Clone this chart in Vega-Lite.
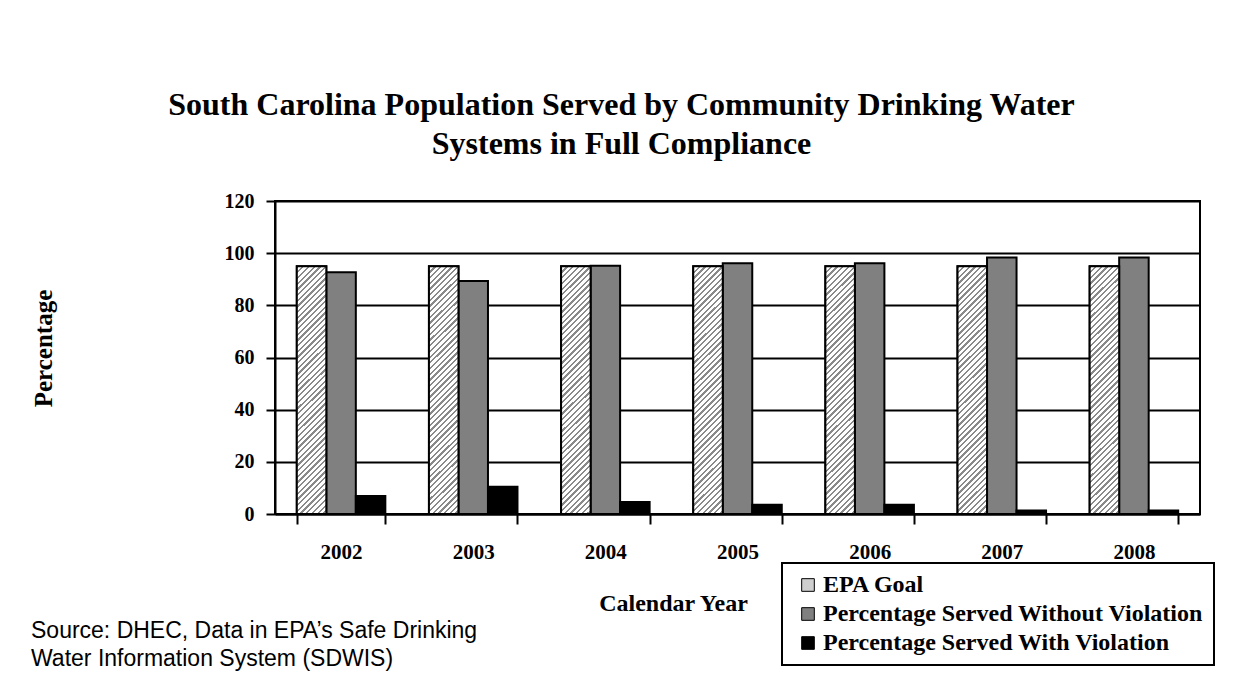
{
  "$schema": "https://vega.github.io/schema/vega-lite/v6.json",
  "background": "white",
  "padding": {"left": 30, "top": 89, "right": 8, "bottom": 14},
  "title": {
    "text": ["South Carolina Population Served by Community Drinking Water", "Systems in Full Compliance"],
    "font": "Liberation Serif", "fontSize": 32, "fontWeight": "bold", "lineHeight": 39,
    "color": "black", "anchor": "middle", "dx": -1, "offset": 29
  },
  "vconcat": [
    {
      "width": 925,
      "height": 313,
      "title": {
        "text": ["Source: DHEC, Data in EPA’s Safe Drinking", "Water Information System (SDWIS)"],
        "orient": "bottom", "anchor": "start", "font": "Liberation Sans", "fontSize": 23,
        "fontWeight": "normal", "lineHeight": 28, "offset": 5, "color": "black"
      },
      "data": {
        "values": [
          {"year": "2002", "series": "EPA Goal", "value": 95},
          {"year": "2002", "series": "Percentage Served Without Violation", "value": 92.7},
          {"year": "2002", "series": "Percentage Served With Violation", "value": 6.9},
          {"year": "2003", "series": "EPA Goal", "value": 95},
          {"year": "2003", "series": "Percentage Served Without Violation", "value": 89.3},
          {"year": "2003", "series": "Percentage Served With Violation", "value": 10.4},
          {"year": "2004", "series": "EPA Goal", "value": 95},
          {"year": "2004", "series": "Percentage Served Without Violation", "value": 95.2},
          {"year": "2004", "series": "Percentage Served With Violation", "value": 4.6},
          {"year": "2005", "series": "EPA Goal", "value": 95},
          {"year": "2005", "series": "Percentage Served Without Violation", "value": 96.1},
          {"year": "2005", "series": "Percentage Served With Violation", "value": 3.5},
          {"year": "2006", "series": "EPA Goal", "value": 95},
          {"year": "2006", "series": "Percentage Served Without Violation", "value": 96.1},
          {"year": "2006", "series": "Percentage Served With Violation", "value": 3.5},
          {"year": "2007", "series": "EPA Goal", "value": 95},
          {"year": "2007", "series": "Percentage Served Without Violation", "value": 98.3},
          {"year": "2007", "series": "Percentage Served With Violation", "value": 1.3},
          {"year": "2008", "series": "EPA Goal", "value": 95},
          {"year": "2008", "series": "Percentage Served Without Violation", "value": 98.3},
          {"year": "2008", "series": "Percentage Served With Violation", "value": 1.3}
        ]
      },
      "layer": [
        {
          "mark": {"type": "bar", "stroke": "black", "strokeWidth": 2},
          "encoding": {
            "x": {
              "field": "year", "type": "nominal", "title": "Calendar Year",
              "scale": {"paddingInner": 0.33, "paddingOuter": 0.165},
              "axis": {"titleX": 398}
            },
            "xOffset": {
              "field": "series", "type": "nominal",
              "scale": {"domain": ["EPA Goal", "Percentage Served Without Violation", "Percentage Served With Violation"], "paddingInner": 0, "paddingOuter": 0}
            },
            "y": {
              "field": "value", "type": "quantitative", "title": "Percentage",
              "scale": {"domain": [0, 120]},
              "axis": {"values": [0, 20, 40, 60, 80, 100, 120], "titleY": 147}
            },
            "color": {
              "field": "series", "type": "nominal",
              "scale": {
                "domain": ["EPA Goal", "Percentage Served Without Violation", "Percentage Served With Violation"],
                "range": ["#cfcfcf", "#808080", "#000000"]
              },
              "legend": {
                "orient": "none", "legendX": 507, "legendY": 362, "title": null,
                "strokeColor": "black", "padding": 10, "symbolOffset": 4,
                "symbolType": "square", "symbolSize": 160, "symbolStrokeColor": "black",
                "symbolStrokeWidth": 1, "labelFont": "Liberation Serif", "labelFontSize": 24,
                "labelFontWeight": "bold", "labelColor": "black", "rowPadding": 5,
                "labelOffset": 3, "labelLimit": 500
              }
            }
          }
        },
        {
          "transform": [{"filter": "datum.series === 'EPA Goal'"}],
          "mark": {
            "type": "bar", "stroke": "black", "strokeWidth": 2,
            "fill": {
              "gradient": "linear", "x1": 0, "y1": 0, "x2": 0.134, "y2": 1.13,
              "stops": [
                {"offset": 0, "color": "#8a8a8a"}, {"offset": 0.008, "color": "#8a8a8a"}, {"offset": 0.008, "color": "#ffffff"}, {"offset": 0.02, "color": "#ffffff"},
                {"offset": 0.02, "color": "#8a8a8a"}, {"offset": 0.028, "color": "#8a8a8a"}, {"offset": 0.028, "color": "#ffffff"}, {"offset": 0.04, "color": "#ffffff"},
                {"offset": 0.04, "color": "#8a8a8a"}, {"offset": 0.048, "color": "#8a8a8a"}, {"offset": 0.048, "color": "#ffffff"}, {"offset": 0.06, "color": "#ffffff"},
                {"offset": 0.06, "color": "#8a8a8a"}, {"offset": 0.068, "color": "#8a8a8a"}, {"offset": 0.068, "color": "#ffffff"}, {"offset": 0.08, "color": "#ffffff"},
                {"offset": 0.08, "color": "#8a8a8a"}, {"offset": 0.088, "color": "#8a8a8a"}, {"offset": 0.088, "color": "#ffffff"}, {"offset": 0.1, "color": "#ffffff"},
                {"offset": 0.1, "color": "#8a8a8a"}, {"offset": 0.108, "color": "#8a8a8a"}, {"offset": 0.108, "color": "#ffffff"}, {"offset": 0.12, "color": "#ffffff"},
                {"offset": 0.12, "color": "#8a8a8a"}, {"offset": 0.128, "color": "#8a8a8a"}, {"offset": 0.128, "color": "#ffffff"}, {"offset": 0.14, "color": "#ffffff"},
                {"offset": 0.14, "color": "#8a8a8a"}, {"offset": 0.148, "color": "#8a8a8a"}, {"offset": 0.148, "color": "#ffffff"}, {"offset": 0.16, "color": "#ffffff"},
                {"offset": 0.16, "color": "#8a8a8a"}, {"offset": 0.168, "color": "#8a8a8a"}, {"offset": 0.168, "color": "#ffffff"}, {"offset": 0.18, "color": "#ffffff"},
                {"offset": 0.18, "color": "#8a8a8a"}, {"offset": 0.188, "color": "#8a8a8a"}, {"offset": 0.188, "color": "#ffffff"}, {"offset": 0.2, "color": "#ffffff"},
                {"offset": 0.2, "color": "#8a8a8a"}, {"offset": 0.208, "color": "#8a8a8a"}, {"offset": 0.208, "color": "#ffffff"}, {"offset": 0.22, "color": "#ffffff"},
                {"offset": 0.22, "color": "#8a8a8a"}, {"offset": 0.228, "color": "#8a8a8a"}, {"offset": 0.228, "color": "#ffffff"}, {"offset": 0.24, "color": "#ffffff"},
                {"offset": 0.24, "color": "#8a8a8a"}, {"offset": 0.248, "color": "#8a8a8a"}, {"offset": 0.248, "color": "#ffffff"}, {"offset": 0.26, "color": "#ffffff"},
                {"offset": 0.26, "color": "#8a8a8a"}, {"offset": 0.268, "color": "#8a8a8a"}, {"offset": 0.268, "color": "#ffffff"}, {"offset": 0.28, "color": "#ffffff"},
                {"offset": 0.28, "color": "#8a8a8a"}, {"offset": 0.288, "color": "#8a8a8a"}, {"offset": 0.288, "color": "#ffffff"}, {"offset": 0.3, "color": "#ffffff"},
                {"offset": 0.3, "color": "#8a8a8a"}, {"offset": 0.308, "color": "#8a8a8a"}, {"offset": 0.308, "color": "#ffffff"}, {"offset": 0.32, "color": "#ffffff"},
                {"offset": 0.32, "color": "#8a8a8a"}, {"offset": 0.328, "color": "#8a8a8a"}, {"offset": 0.328, "color": "#ffffff"}, {"offset": 0.34, "color": "#ffffff"},
                {"offset": 0.34, "color": "#8a8a8a"}, {"offset": 0.348, "color": "#8a8a8a"}, {"offset": 0.348, "color": "#ffffff"}, {"offset": 0.36, "color": "#ffffff"},
                {"offset": 0.36, "color": "#8a8a8a"}, {"offset": 0.368, "color": "#8a8a8a"}, {"offset": 0.368, "color": "#ffffff"}, {"offset": 0.38, "color": "#ffffff"},
                {"offset": 0.38, "color": "#8a8a8a"}, {"offset": 0.388, "color": "#8a8a8a"}, {"offset": 0.388, "color": "#ffffff"}, {"offset": 0.4, "color": "#ffffff"},
                {"offset": 0.4, "color": "#8a8a8a"}, {"offset": 0.408, "color": "#8a8a8a"}, {"offset": 0.408, "color": "#ffffff"}, {"offset": 0.42, "color": "#ffffff"},
                {"offset": 0.42, "color": "#8a8a8a"}, {"offset": 0.428, "color": "#8a8a8a"}, {"offset": 0.428, "color": "#ffffff"}, {"offset": 0.44, "color": "#ffffff"},
                {"offset": 0.44, "color": "#8a8a8a"}, {"offset": 0.448, "color": "#8a8a8a"}, {"offset": 0.448, "color": "#ffffff"}, {"offset": 0.46, "color": "#ffffff"},
                {"offset": 0.46, "color": "#8a8a8a"}, {"offset": 0.468, "color": "#8a8a8a"}, {"offset": 0.468, "color": "#ffffff"}, {"offset": 0.48, "color": "#ffffff"},
                {"offset": 0.48, "color": "#8a8a8a"}, {"offset": 0.488, "color": "#8a8a8a"}, {"offset": 0.488, "color": "#ffffff"}, {"offset": 0.5, "color": "#ffffff"},
                {"offset": 0.5, "color": "#8a8a8a"}, {"offset": 0.508, "color": "#8a8a8a"}, {"offset": 0.508, "color": "#ffffff"}, {"offset": 0.52, "color": "#ffffff"},
                {"offset": 0.52, "color": "#8a8a8a"}, {"offset": 0.528, "color": "#8a8a8a"}, {"offset": 0.528, "color": "#ffffff"}, {"offset": 0.54, "color": "#ffffff"},
                {"offset": 0.54, "color": "#8a8a8a"}, {"offset": 0.548, "color": "#8a8a8a"}, {"offset": 0.548, "color": "#ffffff"}, {"offset": 0.56, "color": "#ffffff"},
                {"offset": 0.56, "color": "#8a8a8a"}, {"offset": 0.568, "color": "#8a8a8a"}, {"offset": 0.568, "color": "#ffffff"}, {"offset": 0.58, "color": "#ffffff"},
                {"offset": 0.58, "color": "#8a8a8a"}, {"offset": 0.588, "color": "#8a8a8a"}, {"offset": 0.588, "color": "#ffffff"}, {"offset": 0.6, "color": "#ffffff"},
                {"offset": 0.6, "color": "#8a8a8a"}, {"offset": 0.608, "color": "#8a8a8a"}, {"offset": 0.608, "color": "#ffffff"}, {"offset": 0.62, "color": "#ffffff"},
                {"offset": 0.62, "color": "#8a8a8a"}, {"offset": 0.628, "color": "#8a8a8a"}, {"offset": 0.628, "color": "#ffffff"}, {"offset": 0.64, "color": "#ffffff"},
                {"offset": 0.64, "color": "#8a8a8a"}, {"offset": 0.648, "color": "#8a8a8a"}, {"offset": 0.648, "color": "#ffffff"}, {"offset": 0.66, "color": "#ffffff"},
                {"offset": 0.66, "color": "#8a8a8a"}, {"offset": 0.668, "color": "#8a8a8a"}, {"offset": 0.668, "color": "#ffffff"}, {"offset": 0.68, "color": "#ffffff"},
                {"offset": 0.68, "color": "#8a8a8a"}, {"offset": 0.688, "color": "#8a8a8a"}, {"offset": 0.688, "color": "#ffffff"}, {"offset": 0.7, "color": "#ffffff"},
                {"offset": 0.7, "color": "#8a8a8a"}, {"offset": 0.708, "color": "#8a8a8a"}, {"offset": 0.708, "color": "#ffffff"}, {"offset": 0.72, "color": "#ffffff"},
                {"offset": 0.72, "color": "#8a8a8a"}, {"offset": 0.728, "color": "#8a8a8a"}, {"offset": 0.728, "color": "#ffffff"}, {"offset": 0.74, "color": "#ffffff"},
                {"offset": 0.74, "color": "#8a8a8a"}, {"offset": 0.748, "color": "#8a8a8a"}, {"offset": 0.748, "color": "#ffffff"}, {"offset": 0.76, "color": "#ffffff"},
                {"offset": 0.76, "color": "#8a8a8a"}, {"offset": 0.768, "color": "#8a8a8a"}, {"offset": 0.768, "color": "#ffffff"}, {"offset": 0.78, "color": "#ffffff"},
                {"offset": 0.78, "color": "#8a8a8a"}, {"offset": 0.788, "color": "#8a8a8a"}, {"offset": 0.788, "color": "#ffffff"}, {"offset": 0.8, "color": "#ffffff"},
                {"offset": 0.8, "color": "#8a8a8a"}, {"offset": 0.808, "color": "#8a8a8a"}, {"offset": 0.808, "color": "#ffffff"}, {"offset": 0.82, "color": "#ffffff"},
                {"offset": 0.82, "color": "#8a8a8a"}, {"offset": 0.828, "color": "#8a8a8a"}, {"offset": 0.828, "color": "#ffffff"}, {"offset": 0.84, "color": "#ffffff"},
                {"offset": 0.84, "color": "#8a8a8a"}, {"offset": 0.848, "color": "#8a8a8a"}, {"offset": 0.848, "color": "#ffffff"}, {"offset": 0.86, "color": "#ffffff"},
                {"offset": 0.86, "color": "#8a8a8a"}, {"offset": 0.868, "color": "#8a8a8a"}, {"offset": 0.868, "color": "#ffffff"}, {"offset": 0.88, "color": "#ffffff"},
                {"offset": 0.88, "color": "#8a8a8a"}, {"offset": 0.888, "color": "#8a8a8a"}, {"offset": 0.888, "color": "#ffffff"}, {"offset": 0.9, "color": "#ffffff"},
                {"offset": 0.9, "color": "#8a8a8a"}, {"offset": 0.908, "color": "#8a8a8a"}, {"offset": 0.908, "color": "#ffffff"}, {"offset": 0.92, "color": "#ffffff"},
                {"offset": 0.92, "color": "#8a8a8a"}, {"offset": 0.928, "color": "#8a8a8a"}, {"offset": 0.928, "color": "#ffffff"}, {"offset": 0.94, "color": "#ffffff"},
                {"offset": 0.94, "color": "#8a8a8a"}, {"offset": 0.948, "color": "#8a8a8a"}, {"offset": 0.948, "color": "#ffffff"}, {"offset": 0.96, "color": "#ffffff"},
                {"offset": 0.96, "color": "#8a8a8a"}, {"offset": 0.968, "color": "#8a8a8a"}, {"offset": 0.968, "color": "#ffffff"}, {"offset": 0.98, "color": "#ffffff"},
                {"offset": 0.98, "color": "#8a8a8a"}, {"offset": 0.988, "color": "#8a8a8a"}, {"offset": 0.988, "color": "#ffffff"}, {"offset": 1, "color": "#ffffff"}
              ]
            }
          },
          "encoding": {
            "x": {"field": "year", "type": "nominal"},
            "xOffset": {"field": "series", "type": "nominal"},
            "y": {"field": "value", "type": "quantitative"}
          }
        }
      ]
    }
  ],
  "config": {
    "view": {"stroke": "black", "strokeWidth": 2},
    "legend": {"strokeWidth": 2},
    "axis": {
      "domainColor": "black", "domainWidth": 2, "tickColor": "black", "tickWidth": 2,
      "labelFont": "Liberation Serif", "labelFontWeight": "bold", "labelColor": "black",
      "titleFont": "Liberation Serif", "titleFontWeight": "bold", "titleColor": "black"
    },
    "axisY": {
      "grid": true, "gridColor": "black", "gridWidth": 2, "gridOpacity": 1,
      "tickSize": 9, "labelFontSize": 20, "labelPadding": 12,
      "titleFontSize": 25, "titlePadding": 168
    },
    "axisX": {
      "grid": false, "tickBand": "extent", "tickSize": 10, "labelAngle": 0,
      "labelFontSize": 21, "labelPadding": 17, "titleFontSize": 24, "titlePadding": 29
    }
  }
}
